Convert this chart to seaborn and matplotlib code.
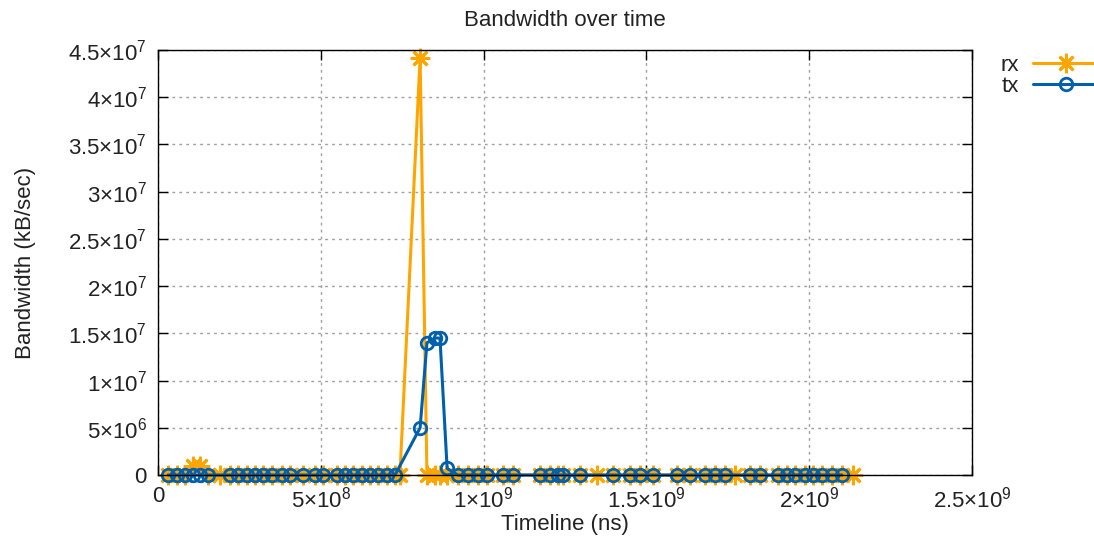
import matplotlib
matplotlib.use("Agg")
import matplotlib.pyplot as plt
from matplotlib.ticker import FixedLocator
import numpy as np
import pandas as pd
import seaborn as sns

# Sample timestamps (milliseconds) and bandwidth readings (kB/sec)
rx_time_ms = [31, 58, 83, 107, 129, 154, 190, 221, 246, 273, 298, 322, 350, 381, 405,
              445, 482, 507, 550, 574, 599, 627, 651, 676, 703, 728, 743, 805, 826, 851,
              866, 888, 921, 952, 983, 1010, 1060, 1090, 1173, 1204, 1228, 1244, 1296,
              1348, 1397, 1450, 1480, 1520, 1594, 1634, 1680, 1711, 1741, 1772, 1818,
              1849, 1904, 1932, 1956, 1987, 2012, 2039, 2070, 2101, 2135]
rx_bw = [0, 0, 0, 1.0e6, 1.0e6, 0, 0, 0, 0, 0, 0, 0, 0, 0, 0,
         0, 0, 0, 0, 0, 0, 0, 0, 0, 0, 0, 0, 4.42e7, 0, 0,
         0, 0, 0, 0, 0, 0, 0, 0, 0, 0, 0, 0, 0,
         0, 0, 0, 0, 0, 0, 0, 0, 0, 0, 0, 0,
         0, 0, 0, 0, 0, 0, 0, 0, 0, 0]

tx_time_ms = [31, 58, 83, 107, 129, 154, 221, 246, 273, 298, 322, 350, 381, 405,
              445, 482, 507, 550, 574, 599, 627, 651, 676, 703, 728, 805, 826, 851,
              866, 888, 921, 952, 983, 1010, 1060, 1090, 1173, 1204, 1228, 1244, 1296,
              1397, 1450, 1480, 1520, 1594, 1634, 1680, 1711, 1741, 1818, 1849, 1904,
              1932, 1956, 1987, 2012, 2039, 2070, 2101]
tx_bw = [0, 0, 0, 0, 0, 0, 0, 0, 0, 0, 0, 0, 0, 0,
         0, 0, 0, 0, 0, 0, 0, 0, 0, 0, 0, 5.0e6, 1.4e7, 1.45e7,
         1.45e7, 7.0e5, 0, 0, 0, 0, 0, 0, 0, 0, 0, 0, 0,
         0, 0, 0, 0, 0, 0, 0, 0, 0, 0, 0, 0,
         0, 0, 0, 0, 0, 0, 0]

x_ticks = [0, 5e8, 1e9, 1.5e9, 2e9, 2.5e9]
x_tick_labels = ["0", r"$5{\times}10^{8}$", r"$1{\times}10^{9}$", r"$1.5{\times}10^{9}$",
                 r"$2{\times}10^{9}$", r"$2.5{\times}10^{9}$"]
y_ticks = [0, 5e6, 1e7, 1.5e7, 2e7, 2.5e7, 3e7, 3.5e7, 4e7, 4.5e7]
y_tick_labels = ["0", r"$5{\times}10^{6}$", r"$1{\times}10^{7}$", r"$1.5{\times}10^{7}$",
                 r"$2{\times}10^{7}$", r"$2.5{\times}10^{7}$", r"$3{\times}10^{7}$",
                 r"$3.5{\times}10^{7}$", r"$4{\times}10^{7}$", r"$4.5{\times}10^{7}$"]

df = pd.concat([
    pd.DataFrame({"time": np.array(rx_time_ms) * 1e6, "bw": rx_bw, "dir": "rx"}),
    pd.DataFrame({"time": np.array(tx_time_ms) * 1e6, "bw": tx_bw, "dir": "tx"}),
], ignore_index=True)

sns.set_style("white")
plt.rcParams["font.family"] = ["Liberation Sans", "DejaVu Sans"]
plt.rcParams["mathtext.fontset"] = "custom"
plt.rcParams["mathtext.rm"] = "Liberation Sans"
plt.rcParams["mathtext.it"] = "Liberation Sans"
plt.rcParams["mathtext.default"] = "regular"

FS = 16
TXT = "#222222"
colors = {"rx": "#FFA500", "tx": "#0060AD"}

fig = plt.figure(figsize=(10.94, 5.42), dpi=100)
ax = fig.add_axes([158 / 1094, 67 / 542, (972 - 158) / 1094, (475 - 50) / 542])

for name, marker, kw in [("rx", (8, 2, 0), dict(markersize=14, markeredgewidth=2)),
                         ("tx", "o", dict(markersize=9, markeredgewidth=2, fillstyle="none"))]:
    sub = df[df["dir"] == name]
    sns.lineplot(data=sub, x="time", y="bw", ax=ax, color=colors[name], linewidth=2.2,
                 marker=marker, markeredgecolor=colors[name], label=name,
                 clip_on=False, zorder=3, estimator=None, sort=False, **kw)

ax.set_xlim(0, 2.5e9)
ax.set_ylim(0, 4.5e7)
ax.xaxis.set_major_locator(FixedLocator(x_ticks))
ax.yaxis.set_major_locator(FixedLocator(y_ticks))
ax.set_xticklabels(x_tick_labels, fontsize=FS, color=TXT)
ax.set_yticklabels(y_tick_labels, fontsize=FS, color=TXT)
ax.tick_params(direction="in", length=7, width=1, color="black",
               top=True, right=True, bottom=True, left=True, pad=8)
ax.grid(True, color="#a0a0a0", linestyle=(0, (2, 3)), linewidth=1)
for s in ax.spines.values():
    s.set_color("black")
    s.set_linewidth(1)
    s.set_zorder(4)

ax.set_title("Bandwidth over time", fontsize=FS, color=TXT, pad=17)
ax.set_xlabel("Timeline (ns)", fontsize=FS, color=TXT)
ax.set_ylabel("Bandwidth (kB/sec)", fontsize=FS, color=TXT)
ax.xaxis.set_label_coords(0.5, -0.092)
ax.yaxis.set_label_coords(-0.15, 0.5)

leg = ax.legend(loc="upper left", bbox_to_anchor=(992 / 1094, 1 - 46 / 542),
                bbox_transform=fig.transFigure, frameon=False, markerfirst=False,
                fontsize=FS, handlelength=3.0, handletextpad=0.6,
                labelspacing=0.0, borderaxespad=0)
for t in leg.get_texts():
    t.set_color(TXT)

fig.savefig("out.png", dpi=100)
